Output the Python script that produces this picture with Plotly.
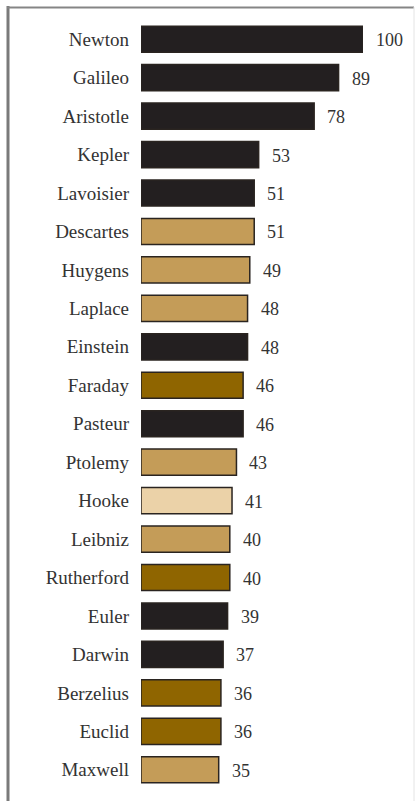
import plotly.graph_objects as go

# Scientists ranked by score
names = ["Newton", "Galileo", "Aristotle", "Kepler", "Lavoisier", "Descartes",
         "Huygens", "Laplace", "Einstein", "Faraday", "Pasteur", "Ptolemy",
         "Hooke", "Leibniz", "Rutherford", "Euler", "Darwin", "Berzelius",
         "Euclid", "Maxwell"]
scores = [100, 89, 78, 53, 51, 51, 49, 48, 48, 46, 46, 43, 41, 40, 40, 39,
          37, 36, 36, 35]
groups = ["dark", "dark", "dark", "dark", "dark", "tan", "tan", "tan", "dark",
          "gold", "dark", "tan", "light", "tan", "gold", "dark", "dark",
          "gold", "gold", "tan"]

palette = {"dark": "#231f20", "tan": "#c49c58", "gold": "#8f6500",
           "light": "#ebd2a8"}

SERIF = "'Liberation Serif', 'Times New Roman', serif"

W, H = 416, 801
L, R, T, B = 141, 53, 20, 12

fig = go.Figure(go.Bar(
    x=scores, y=names, orientation="h",
    marker=dict(color=[palette[g] for g in groups],
                line=dict(color="#2a2420", width=1.5)),
    width=0.68,
    hoverinfo="x+y",
))

for n, s in zip(names, scores):
    fig.add_annotation(x=s, y=n, text=str(s), showarrow=False,
                       xanchor="left", xshift=11, yshift=-1,
                       font=dict(family=SERIF, size=18, color="#333333"))

# page frame
pw, ph = W - L - R, H - T - B
def px(x):
    return (x - L) / pw
def py(y):
    return (H - B - y) / ph

fig.add_shape(type="line", xref="paper", yref="paper",
              x0=px(8), x1=px(8), y0=py(6), y1=py(H + 5),
              line=dict(color="#7a7a7a", width=3))
fig.add_shape(type="line", xref="paper", yref="paper",
              x0=px(7), x1=px(414), y0=py(7.5), y1=py(7.5),
              line=dict(color="#858585", width=2))
fig.add_shape(type="line", xref="paper", yref="paper",
              x0=px(414), x1=px(414), y0=py(7), y1=py(H + 5),
              line=dict(color="#e4e4e4", width=1))

fig.update_layout(
    width=W, height=H,
    margin=dict(l=L, r=R, t=T, b=B),
    paper_bgcolor="white", plot_bgcolor="white",
    showlegend=False,
    xaxis=dict(range=[0, 100], visible=False, fixedrange=True),
    yaxis=dict(autorange="reversed", showgrid=False, zeroline=False,
               showline=False, ticks="", ticklabelstandoff=11,
               tickfont=dict(family=SERIF, size=19, color="#333333")),
    font=dict(family=SERIF),
)

fig.write_html("out.html")
